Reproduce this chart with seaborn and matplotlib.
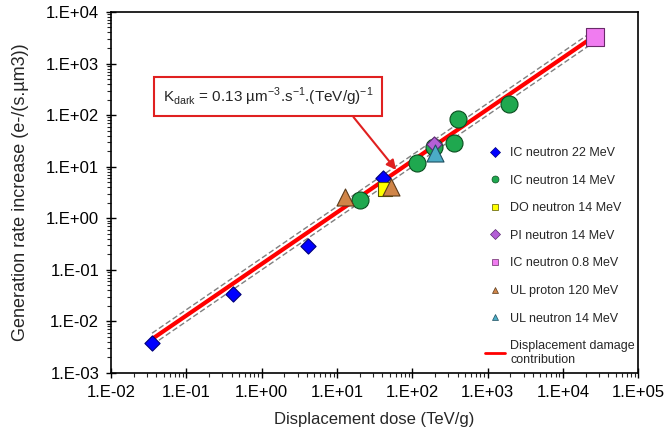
import numpy as np
import pandas as pd
import matplotlib
matplotlib.use("Agg")
from matplotlib import pyplot as plt
from matplotlib.lines import Line2D
from matplotlib.ticker import FuncFormatter, LogLocator, NullFormatter
import seaborn as sns

# Dark current generation rate vs displacement dose
ic22_dose = [0.035, 0.41, 4.1, 41]
ic22_rate = [0.0038, 0.034, 0.29, 6.1]

ic14_dose = [20, 117, 196, 363, 400, 1950]
ic14_rate = [2.25, 12, 24.5, 29, 83, 166]

do14_dose = [43]
do14_rate = [3.7]

pi14_dose = [196]
pi14_rate = [28]

ic08_dose = [27000]
ic08_rate = [3200]

ulp120_dose = [12.8, 52]
ulp120_rate = [2.6, 4.1]

uln14_dose = [203]
uln14_rate = [18.5]

# universal damage factor fit
k_dark = 0.13
fit_dose = [0.035, 27000]
band = 1.3

series = [
    ("IC neutron 22 MeV", ic22_dose, ic22_rate, "D", "#0000ff", "#00007a", 60),
    ("IC neutron 14 MeV", ic14_dose, ic14_rate, "o", "#1fa84f", "#0a4d1f", 150),
    ("DO neutron 14 MeV", do14_dose, do14_rate, "s", "#ffff00", "#555500", 110),
    ("PI neutron 14 MeV", pi14_dose, pi14_rate, "D", "#b45fd6", "#5a2a70", 60),
    ("IC neutron 0.8 MeV", ic08_dose, ic08_rate, "s", "#f07cf0", "#6a2a6a", 150),
    ("UL proton 120 MeV", ulp120_dose, ulp120_rate, "^", "#d08548", "#5a3a1a", 150),
    ("UL neutron 14 MeV", uln14_dose, uln14_rate, "^", "#4bacc6", "#1f4f5f", 150),
]

sns.set_style("ticks")
plt.rcParams["font.family"] = ["Liberation Sans", "DejaVu Sans"]

fig = plt.figure(figsize=(6.69, 4.43), dpi=100)
ax = fig.add_axes([0.166, 0.158, 0.788, 0.815])

fit = pd.DataFrame({"dose": fit_dose})
fit["rate"] = k_dark * fit["dose"]
sns.lineplot(x=fit["dose"], y=fit["rate"] * band, ax=ax, color="#808080",
             lw=1.0, linestyle=(0, (4, 2)), zorder=2)
sns.lineplot(x=fit["dose"], y=fit["rate"] / band, ax=ax, color="#808080",
             lw=1.0, linestyle=(0, (4, 2)), zorder=2)
sns.lineplot(x=fit["dose"], y=fit["rate"], ax=ax, color="#ff0000", lw=3, zorder=3)

handles = []
for name, xs, ys, mk, fc, ec, sz in series:
    sns.scatterplot(x=xs, y=ys, ax=ax, marker=mk, color=fc, edgecolor=ec,
                    linewidth=0.8, s=sz, zorder=4)
    handles.append(Line2D([], [], ls="none", marker=mk, markerfacecolor=fc,
                          markeredgecolor=ec, markersize=5, markeredgewidth=0.5,
                          label=name))
handles.append(Line2D([], [], color="#ff0000", lw=2,
                      label="Displacement damage\ncontribution"))

ax.set_xscale("log")
ax.set_yscale("log")
ax.set_xlim(1e-2, 1e5)
ax.set_ylim(1e-3, 1e4)

fmt = FuncFormatter(lambda v, p: "1.E{:+03d}".format(int(round(np.log10(v)))))
for axis in (ax.xaxis, ax.yaxis):
    axis.set_major_locator(LogLocator(base=10, numticks=20))
    axis.set_minor_locator(LogLocator(base=10, subs=np.arange(2, 10), numticks=20))
    axis.set_major_formatter(fmt)
    axis.set_minor_formatter(NullFormatter())
ax.tick_params(which="major", direction="inout", length=7, width=1, labelsize=12,
               colors="black", pad=5)
ax.tick_params(which="minor", direction="out", length=3, width=0.8)
for sp in ax.spines.values():
    sp.set_color("black")
    sp.set_linewidth(1.2)

ax.set_xlabel("Displacement dose (TeV/g)", fontsize=12, labelpad=9)
ax.set_ylabel("Generation rate increase (e-/(s.µm3))", fontsize=13, labelpad=12)

ax.annotate(r"K$_{\mathregular{dark}}$ = 0.13 µm$^{\mathregular{-3}}$.s$^{\mathregular{-1}}$.(TeV/g)$^{\mathregular{-1}}$",
            xy=(61, 8.7), xycoords="data", xytext=(0.298, 0.765),
            textcoords="axes fraction", ha="center", va="center", fontsize=11,
            bbox=dict(boxstyle="square,pad=0.55", fc="white", ec="#e02020", lw=1.5),
            arrowprops=dict(arrowstyle="-|>", color="#e02020", lw=1.5,
                            relpos=(0.87, 0), shrinkA=0, shrinkB=0,
                            mutation_scale=14),
            zorder=5)

leg = ax.legend(handles=handles, loc="upper left", bbox_to_anchor=(0.70, 0.64),
                frameon=False, fontsize=9, labelspacing=1.25, handlelength=1.6,
                handletextpad=0.4, borderaxespad=0)

fig.savefig("out.png", dpi=100)
